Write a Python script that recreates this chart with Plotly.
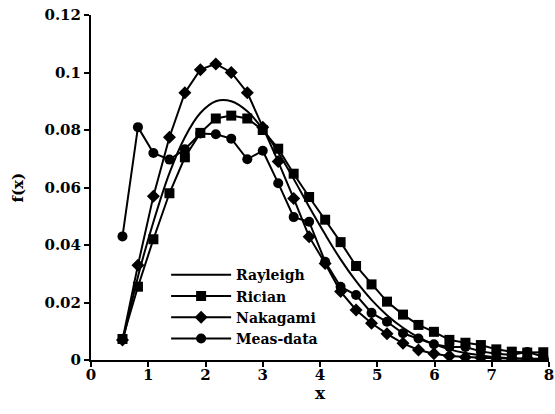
import plotly.graph_objects as go

x_vals = [0.55, 0.82, 1.09, 1.37, 1.64, 1.91, 2.18, 2.45, 2.73, 3.00,
          3.27, 3.54, 3.81, 4.09, 4.36, 4.63, 4.90, 5.17, 5.45, 5.72,
          5.99, 6.26, 6.54, 6.81, 7.08, 7.35, 7.62, 7.90]

rayleigh = [0.006, 0.029, 0.048, 0.065, 0.0775, 0.0859, 0.090, 0.090, 0.0865, 0.0803,
            0.0722, 0.063, 0.0533, 0.0437, 0.035, 0.0274, 0.0209, 0.0156, 0.0112, 0.0079,
            0.0055, 0.0037, 0.0024, 0.0016, 0.0010, 0.0006, 0.0004, 0.0002]

rician = [0.0073, 0.0255, 0.042, 0.058, 0.0705, 0.079, 0.084, 0.085, 0.084, 0.080,
          0.0735, 0.0648, 0.0567, 0.0488, 0.041, 0.0327, 0.0263, 0.0203, 0.0158, 0.0122,
          0.0098, 0.0070, 0.0060, 0.0052, 0.0037, 0.0029, 0.0026, 0.0027]

nakagami = [0.007, 0.033, 0.057, 0.0775, 0.093, 0.101, 0.103, 0.100, 0.093, 0.081,
            0.069, 0.0562, 0.0429, 0.0336, 0.0238, 0.0174, 0.0128, 0.0091, 0.0058, 0.0035,
            0.0022, 0.0014, 0.0010, 0.0008, 0.0006, 0.0005, 0.0005, 0.0004]

meas = [0.043, 0.081, 0.072, 0.0697, 0.0733, 0.0788, 0.0785, 0.077, 0.0698, 0.0728,
        0.0615, 0.0497, 0.0481, 0.0342, 0.0255, 0.0226, 0.0164, 0.0133, 0.0093, 0.0075,
        0.0055, 0.0045, 0.0045, 0.0030, 0.0022, 0.0018, 0.0028, 0.0012]

x_ticks = [0, 1, 2, 3, 4, 5, 6, 7, 8]

font_family = "DejaVu Serif"
black = "#000000"

def f(size):
    return dict(family=font_family, size=size, color=black, weight="bold")

fig = go.Figure()
fig.add_trace(go.Scatter(x=x_vals, y=rayleigh, name="Rayleigh", mode="lines",
                         line=dict(color=black, width=2, shape="spline")))
fig.add_trace(go.Scatter(x=x_vals, y=rician, name="Rician", mode="lines+markers",
                         line=dict(color=black, width=2),
                         marker=dict(symbol="square", size=10, color=black)))
fig.add_trace(go.Scatter(x=x_vals, y=nakagami, name="Nakagami", mode="lines+markers",
                         line=dict(color=black, width=2),
                         marker=dict(symbol="diamond", size=10, color=black)))
fig.add_trace(go.Scatter(x=x_vals, y=meas, name="Meas-data", mode="lines+markers",
                         line=dict(color=black, width=2),
                         marker=dict(symbol="circle", size=10, color=black)))

fig.update_layout(
    width=555, height=414,
    margin=dict(l=91, r=6, t=15, b=54),
    paper_bgcolor="white", plot_bgcolor="white",
    font=f(15),
    showlegend=True,
    legend=dict(x=0.164, y=0.292, xanchor="left", yanchor="top",
                bgcolor="rgba(0,0,0,0)", itemwidth=60,
                font=f(14), tracegroupgap=0),
    xaxis=dict(range=[0, 8], tickvals=x_ticks, showgrid=False, zeroline=False,
               automargin=False,
               showline=True, linecolor=black, linewidth=2,
               ticks="outside", ticklen=5, tickwidth=2, tickcolor=black,
               tickfont=f(15), ticklabeloverflow="allow", ticklabelstandoff=-5),
    yaxis=dict(range=[0, 0.12], dtick=0.02, showgrid=False, zeroline=False,
               automargin=False,
               showline=True, linecolor=black, linewidth=2,
               ticks="outside", ticklen=5, tickwidth=2, tickcolor=black,
               tickfont=f(15)),
    annotations=[
        dict(text="x", xref="paper", yref="paper", x=0.5, y=0,
             yshift=-21, xanchor="center", yanchor="top",
             showarrow=False, font=f(17)),
        dict(text="f(x)", xref="paper", yref="paper", x=0, y=0.5,
             xshift=-74, xanchor="center", yanchor="middle", textangle=-90,
             showarrow=False, font=f(15)),
    ],
)

fig.write_html("out.html",
               config={"displayModeBar": False},
               post_script="document.body.style.margin='0px';document.body.style.overflow='hidden';")
